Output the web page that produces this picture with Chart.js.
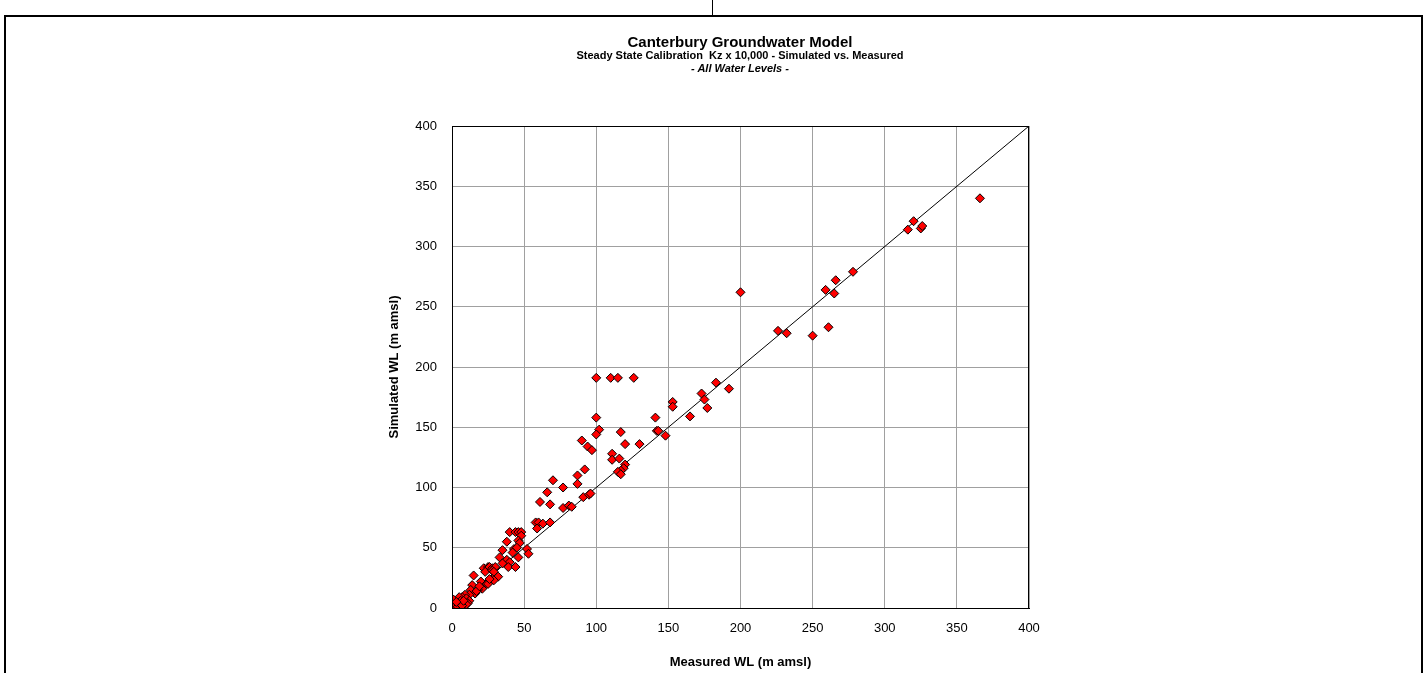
<!DOCTYPE html>
<html>
<head>
<meta charset="utf-8">
<script src="https://cdn.jsdelivr.net/npm/chart.js@4.4.1/dist/chart.umd.min.js"></script>
<style>
  html, body { margin: 0; padding: 0; background: #fff; }
  body { width: 1428px; height: 673px; position: relative; overflow: hidden; font-family: "Liberation Sans", Arial, sans-serif; color: #000; }
  .rule { position: absolute; background: #000; }
  .title { position: absolute; left: 52px; width: 1376px; text-align: center; font-weight: bold; white-space: pre; }
  canvas { position: absolute; left: 0; top: 0; }
</style>
</head>
<body>
<div class="rule" style="left:4px; top:15px; width:1419px; height:2px;"></div>
<div class="rule" style="left:712px; top:0; width:1px; height:16px;"></div>
<div class="rule" style="left:4px; top:15px; width:2px; height:658px;"></div>
<div class="rule" style="left:1421px; top:15px; width:2px; height:658px;"></div>

<canvas id="calibChart" width="1428" height="673"></canvas>

<div class="title" style="top:33px; font-size:15px; line-height:18px;">Canterbury Groundwater Model</div>
<div class="title" style="top:49px; font-size:11px; line-height:13px;">Steady State Calibration  Kz x 10,000 - Simulated vs. Measured</div>
<div class="title" style="top:62px; font-size:11px; line-height:13px; font-style:italic;">- All Water Levels -</div>

<script>
// Measured vs simulated water levels (m amsl)
const measured = [
  366, 320, 316, 325, 326, 278, 266, 259, 265, 226, 232, 250, 261, 200,
  183, 192, 173, 175, 177, 165, 153, 153, 148, 141, 142, 143,
  100, 110, 115, 126, 100, 102, 100, 117, 130, 120, 90, 94, 97, 111, 111, 116,
  120, 119, 117, 115, 117, 92, 87, 87, 70, 77, 66, 61, 68, 77, 81, 83, 91, 95, 96,
  58, 60, 63, 68, 59, 40, 44, 46, 48, 48, 46, 47, 38, 35, 43, 45, 52, 53, 46, 42,
  33, 38, 40, 35, 39, 44, 22, 25, 26, 28, 30, 30, 23, 28, 29, 32, 28, 29, 15, 20,
  24, 25, 21, 18, 14, 13, 16, 12, 9, 7, 10, 12, 11, 10, 5, 6, 3, 2, 1, 4, 6, 1, 7,
  8, 17, 19, 26, 3
];
const simulated = [
  340, 321, 314, 315, 317, 279, 272, 264, 261, 230, 228, 226, 233, 262,
  187, 182, 178, 173, 166, 159, 171, 167, 143, 158, 147, 147,
  191, 191, 191, 191, 158, 148, 144, 146, 136, 136, 139, 134, 131, 128, 123, 124,
  119, 116, 114, 113, 111, 115, 110, 103, 106, 100, 96, 88, 86, 83, 85, 84, 92, 94, 95,
  71, 71, 70, 71, 66, 63, 63, 63, 63, 60, 56, 54, 55, 48, 49, 50, 49, 45, 42, 46,
  42, 40, 38, 37, 34, 34, 33, 34, 34, 33, 33, 34, 30, 31, 30, 26, 24, 23, 27, 22,
  20, 20, 16, 15, 19, 15, 12, 11, 11, 9, 8, 6, 4, 3, 9, 6, 4, 3, 0, 1, 3, 7, 2,
  6, 14, 18, 24, 5
];
// 1:1 reference line
const lineX = [0, 400];
const lineY = [0, 400];
const axisMin = 0;
const axisMax = 400;
const axisStep = 50;

const FONT = '"Liberation Sans", Arial, sans-serif';

// frame around the plot area
const plotBorder = {
  id: 'plotBorder',
  afterDraw(chart) {
    const { ctx, chartArea: a } = chart;
    ctx.save();
    ctx.strokeStyle = '#000';
    ctx.lineWidth = 1;
    ctx.strokeRect(Math.round(a.left) + 0.5, Math.round(a.top) + 0.5,
      Math.round(a.right - a.left) - 1, Math.round(a.bottom - a.top));
    ctx.restore();
  }
};

function initCalibrationChart() {
  const ctx = document.getElementById('calibChart');
  if (!ctx) return;

  new Chart(ctx, {
    type: 'scatter',
    data: {
      datasets: [{
        label: 'Observations',
        data: measured.map((m, i) => ({ x: m, y: simulated[i] })),
        pointStyle: 'rectRot',
        pointRadius: 4.5,
        pointBackgroundColor: '#ff0000',
        pointBorderColor: '#000',
        pointBorderWidth: 1,
        order: 1
      }, {
        type: 'line',
        label: '1:1',
        data: lineX.map((v, i) => ({ x: v, y: lineY[i] })),
        borderColor: '#000',
        borderWidth: 1,
        pointRadius: 0,
        fill: false,
        order: 2
      }]
    },
    options: {
      responsive: false,
      animation: false,
      events: [],
      layout: { padding: { left: 383, right: 399, top: 126, bottom: 0 } },
      plugins: {
        legend: { display: false },
        tooltip: { enabled: false }
      },
      scales: {
        x: {
          type: 'linear',
          min: axisMin, max: axisMax,
          afterFit: (s) => { s.height = 65; },
          ticks: { stepSize: axisStep, padding: 13, color: '#000', font: { family: FONT, size: 13 } },
          grid: { color: '#a0a0a0', lineWidth: 1, drawTicks: false },
          border: { color: '#000', width: 1 },
          title: { display: true, text: 'Measured WL (m amsl)', color: '#000',
                   font: { family: FONT, size: 13, weight: 'bold' }, padding: { top: 4, bottom: 3 } }
        },
        y: {
          type: 'linear',
          min: axisMin, max: axisMax,
          afterFit: (s) => { s.width = 69; },
          ticks: { stepSize: axisStep, padding: 15, color: '#000', font: { family: FONT, size: 13 } },
          grid: { color: '#a0a0a0', lineWidth: 1, drawTicks: false },
          border: { color: '#000', width: 1 },
          title: { display: true, text: 'Simulated WL (m amsl)', color: '#000',
                   font: { family: FONT, size: 13, weight: 'bold' }, padding: { top: 4, bottom: 4 } }
        }
      }
    },
    plugins: [plotBorder]
  });
}

document.addEventListener('DOMContentLoaded', initCalibrationChart);
</script>
</body>
</html>
